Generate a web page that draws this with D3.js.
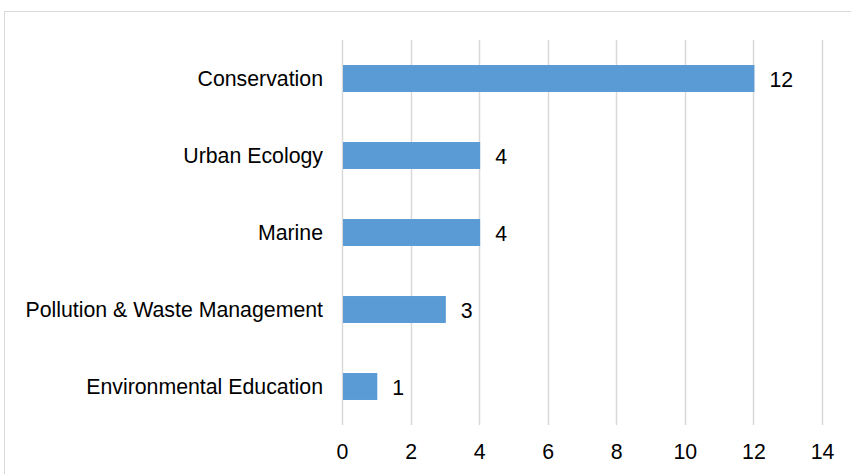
<!DOCTYPE html>
<html>
<head>
<meta charset="utf-8">
<script src="https://cdn.jsdelivr.net/npm/d3@7"></script>
<style>
  html, body { margin: 0; padding: 0; background: #fff; }
  svg { display: block; }
  text { font-family: "Liberation Sans", Arial, sans-serif; fill: #000; }
</style>
</head>
<body>
<svg id="chart" width="851" height="474"></svg>
<script>
// Number of projects per theme
const categories = ["Conservation", "Urban Ecology", "Marine", "Pollution & Waste Management", "Environmental Education"];
const values = [12, 4, 4, 3, 1];
const tickValues = [0, 2, 4, 6, 8, 10, 12, 14];

const svg = d3.select("#chart");
const plot = { left: 342, right: 822, top: 40, bottom: 425 };
const fontSize = 21.3;

// outer chart border
svg.append("rect")
  .attr("x", 4.5).attr("y", 11.5)
  .attr("width", 900).attr("height", 500)
  .attr("fill", "none").attr("stroke", "#d9d9d9").attr("stroke-width", 1);

const x = d3.scaleLinear().domain([0, 14]).range([plot.left, plot.right]);
const y = d3.scaleBand().domain(categories)
  .range([plot.top, plot.bottom])
  .paddingInner(0.65).paddingOuter(0.325);

// vertical gridlines
svg.append("g")
  .selectAll("line")
  .data(tickValues)
  .join("line")
  .attr("x1", d => Math.round(x(d)) + 0.5)
  .attr("x2", d => Math.round(x(d)) + 0.5)
  .attr("y1", plot.top).attr("y2", plot.bottom)
  .attr("stroke", "#d9d9d9").attr("stroke-width", 1.5);

// bars
svg.append("g")
  .selectAll("rect")
  .data(categories)
  .join("rect")
  .attr("x", x(0) + 1)
  .attr("y", d => y(d))
  .attr("width", (d, i) => x(values[i]) - x(0))
  .attr("height", y.bandwidth())
  .attr("fill", "#5b9bd5");

// value labels
svg.append("g")
  .selectAll("text")
  .data(categories)
  .join("text")
  .attr("x", (d, i) => x(values[i]) + 16)
  .attr("y", d => y(d) + y.bandwidth() / 2 + 1)
  .attr("dy", "0.35em")
  .attr("font-size", fontSize)
  .text((d, i) => values[i]);

// category axis
const yAxis = d3.axisLeft(y).tickSize(0).tickPadding(19);
const gy = svg.append("g").attr("transform", `translate(${plot.left},1)`).call(yAxis);
gy.select(".domain").remove();
gy.selectAll("text").attr("font-size", fontSize).attr("font-family", null);

// value axis
const xAxis = d3.axisBottom(x).tickValues(tickValues).tickSize(0).tickPadding(19);
const gx = svg.append("g").attr("transform", `translate(0,${plot.bottom})`).call(xAxis);
gx.select(".domain").remove();
gx.selectAll("text").attr("font-size", fontSize).attr("font-family", null);
</script>
</body>
</html>
